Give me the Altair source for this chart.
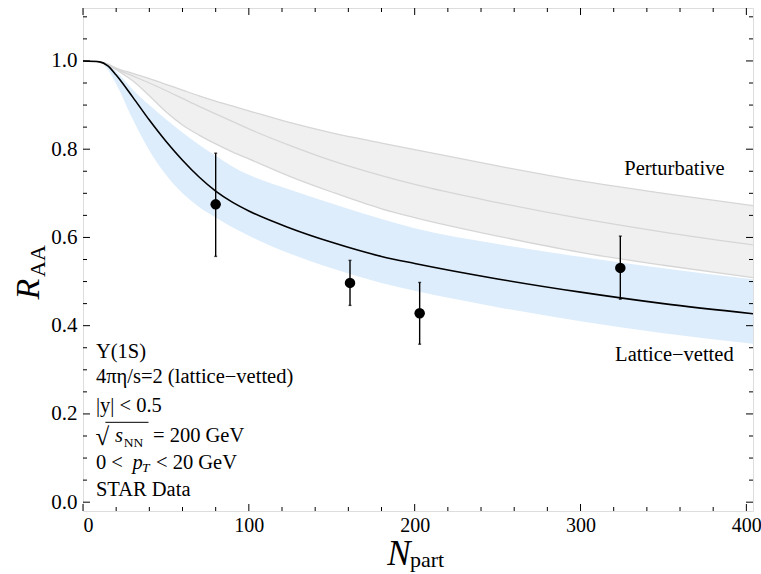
import altair as alt
import pandas as pd

# ---- curve data ----
N_grid = [0, 10, 15, 20, 30, 40, 50, 60, 70, 80, 90, 100, 125, 150, 180, 200, 250, 300, 350, 404]
gray_upper = [1.0, 0.998, 0.993, 0.984, 0.972, 0.960, 0.947, 0.934, 0.921, 0.909, 0.898, 0.887, 0.860, 0.837, 0.814, 0.799, 0.762, 0.728, 0.700, 0.672]
gray_mid = [1.0, 0.998, 0.992, 0.982, 0.966, 0.950, 0.933, 0.915, 0.897, 0.880, 0.863, 0.846, 0.808, 0.774, 0.740, 0.720, 0.679, 0.643, 0.612, 0.583]
gray_lower = [1.0, 0.998, 0.991, 0.980, 0.955, 0.921, 0.885, 0.855, 0.832, 0.812, 0.794, 0.778, 0.738, 0.703, 0.665, 0.645, 0.603, 0.566, 0.537, 0.509]
blue_upper = [1.0, 0.998, 0.990, 0.976, 0.935, 0.900, 0.868, 0.838, 0.810, 0.785, 0.761, 0.742, 0.708, 0.677, 0.642, 0.621, 0.585, 0.556, 0.530, 0.505]
lattice_central = [1.0, 0.998, 0.989, 0.968, 0.918, 0.866, 0.818, 0.775, 0.737, 0.705, 0.680, 0.660, 0.621, 0.589, 0.557, 0.541, 0.506, 0.476, 0.450, 0.427]
blue_lower = [1.0, 0.997, 0.980, 0.948, 0.868, 0.797, 0.742, 0.700, 0.669, 0.645, 0.623, 0.604, 0.563, 0.530, 0.497, 0.479, 0.442, 0.410, 0.383, 0.359]

# ---- STAR data ----
star_N = [80, 161, 203, 324]
star_R = [0.675, 0.497, 0.428, 0.531]
star_lo = [0.557, 0.446, 0.358, 0.460]
star_hi = [0.791, 0.548, 0.498, 0.603]

# ---- ticks ----
x_major = [0, 100, 200, 300, 400]
x_minor = [20, 40, 60, 80, 120, 140, 160, 180, 220, 240, 260, 280, 320, 340, 360, 380]
y_major = [0.0, 0.2, 0.4, 0.6, 0.8, 1.0]
y_minor = [0.05, 0.1, 0.15, 0.25, 0.3, 0.35, 0.45, 0.5, 0.55, 0.65, 0.7, 0.75, 0.85, 0.9, 0.95, 1.05, 1.1]

W, H = 670, 503
FONT = "Liberation Serif"
XD = [0, 404]
YD = [-0.02, 1.12]
FS = 20.5

curves = pd.DataFrame({
    "N": N_grid, "gu": gray_upper, "gm": gray_mid, "gl": gray_lower,
    "bu": blue_upper, "c": lattice_central, "bl": blue_lower,
})
pts = pd.DataFrame({"N": star_N, "R": star_R, "lo": star_lo, "hi": star_hi})

xs = alt.Scale(domain=XD, nice=False, zero=False)
ys = alt.Scale(domain=YD, nice=False, zero=False)

x_axis = alt.Axis(values=x_major, ticks=False, domain=False, grid=False, title=None,
                  labelFont=FONT, labelFontSize=20, labelColor="black", labelPadding=4)
y_axis = alt.Axis(values=y_major, ticks=False, domain=False, grid=False, title=None, format=".1f",
                  labelFont=FONT, labelFontSize=21, labelColor="black", labelPadding=6)

base = alt.Chart(curves)

blue_band = base.mark_area(color="#ddedfc", interpolate="monotone", clip=True).encode(
    x=alt.X("N:Q", scale=xs, axis=x_axis),
    y=alt.Y("bu:Q", scale=ys, axis=y_axis),
    y2="bl:Q",
)
gray_band = base.mark_area(color="#f0f0f0", interpolate="monotone", clip=True).encode(
    x=alt.X("N:Q", scale=xs), y=alt.Y("gu:Q", scale=ys), y2="gl:Q"
)
gray_lines = alt.layer(*[
    base.mark_line(color="#d6d6d6", strokeWidth=1.3, interpolate="monotone", clip=True).encode(
        x=alt.X("N:Q", scale=xs), y=alt.Y(f"{c}:Q", scale=ys))
    for c in ["gu", "gm", "gl"]
])
central = base.mark_line(color="black", strokeWidth=1.6, interpolate="monotone", clip=True).encode(
    x=alt.X("N:Q", scale=xs), y=alt.Y("c:Q", scale=ys)
)

pbase = alt.Chart(pts)
err = pbase.mark_rule(color="black", strokeWidth=1.4).encode(
    x=alt.X("N:Q", scale=xs), y=alt.Y("lo:Q", scale=ys), y2="hi:Q")
cap_hi = pbase.mark_tick(color="black", orient="horizontal", size=3, thickness=1.4).encode(
    x=alt.X("N:Q", scale=xs), y=alt.Y("hi:Q", scale=ys))
cap_lo = pbase.mark_tick(color="black", orient="horizontal", size=3, thickness=1.4).encode(
    x=alt.X("N:Q", scale=xs), y=alt.Y("lo:Q", scale=ys))
dots = pbase.mark_circle(color="black", opacity=1, size=110).encode(
    x=alt.X("N:Q", scale=xs), y=alt.Y("R:Q", scale=ys))

# ---- frame ticks (inward, on all four sides) ----
def xticks(vals, length):
    d = alt.Chart(pd.DataFrame({"v": vals}))
    bot = d.mark_rule(color="black", strokeWidth=1).encode(
        x=alt.X("v:Q", scale=xs), y=alt.value(H), y2=alt.value(H - length))
    top = d.mark_rule(color="black", strokeWidth=1).encode(
        x=alt.X("v:Q", scale=xs), y=alt.value(0), y2=alt.value(length))
    return bot + top

def yticks(vals, length):
    d = alt.Chart(pd.DataFrame({"v": vals}))
    left = d.mark_rule(color="black", strokeWidth=1).encode(
        y=alt.Y("v:Q", scale=ys), x=alt.value(0), x2=alt.value(length))
    right = d.mark_rule(color="black", strokeWidth=1).encode(
        y=alt.Y("v:Q", scale=ys), x=alt.value(W), x2=alt.value(W - length))
    return left + right

ticks = xticks(x_major, 7) + xticks(x_minor, 4) + yticks(y_major, 7) + yticks(y_minor, 4)

# ---- in-plot annotations (data coordinates) ----
ann_text = ["Perturbative", "Lattice\u2212vetted", "\u03a5(1S)", "4\u03c0\u03b7/s=2 (lattice\u2212vetted)",
            "|y| < 0.5", "= 200 GeV", "0 <", "< 20 GeV", "STAR Data"]
ann_N = [356.6, 356.6, 7.8, 7.8, 7.8, 42.2, 7.8, 44.0, 7.8]
ann_R = [0.755, 0.333, 0.340, 0.283, 0.218, 0.149, 0.089, 0.089, 0.028]
ann_align = ["center", "center", "left", "left", "left", "left", "left", "left", "left"]

ann_layers = []
for t, n, r, a in zip(ann_text, ann_N, ann_R, ann_align):
    ann_layers.append(
        alt.Chart(pd.DataFrame({"t": [t], "N": [n], "R": [r]})).mark_text(
            font=FONT, fontSize=FS, color="black", align=a, baseline="middle"
        ).encode(x=alt.X("N:Q", scale=xs), y=alt.Y("R:Q", scale=ys), text="t:N")
    )

# italic / sub pieces
ital_text = ["s", "p"]
ital_N = [19.3, 29.8]
ital_R = [0.149, 0.089]
sub_text = ["NN", "T"]
sub_N = [24.6, 35.6]
sub_R = [0.135, 0.077]
ital_sub = [False, True]

for t, n, r in zip(ital_text, ital_N, ital_R):
    ann_layers.append(
        alt.Chart(pd.DataFrame({"t": [t], "N": [n], "R": [r]})).mark_text(
            font=FONT, fontSize=FS, fontStyle="italic", color="black", align="left", baseline="middle"
        ).encode(x=alt.X("N:Q", scale=xs), y=alt.Y("R:Q", scale=ys), text="t:N")
    )
for t, n, r, it in zip(sub_text, sub_N, sub_R, ital_sub):
    kw = {"fontStyle": "italic"} if it else {}
    ann_layers.append(
        alt.Chart(pd.DataFrame({"t": [t], "N": [n], "R": [r]})).mark_text(
            font=FONT, fontSize=13.5, color="black", align="left", baseline="middle", **kw
        ).encode(x=alt.X("N:Q", scale=xs), y=alt.Y("R:Q", scale=ys), text="t:N")
    )

# radical sign and its bar
rad = alt.Chart(pd.DataFrame({"t": ["\u221a"], "N": [7.6], "R": [0.147]})).mark_text(
    font=FONT, fontSize=25, color="black", align="left", baseline="middle"
).encode(x=alt.X("N:Q", scale=xs), y=alt.Y("R:Q", scale=ys), text="t:N")
rad_bar = alt.Chart(pd.DataFrame({"a": [13.5], "b": [39.5], "R": [0.181]})).mark_rule(
    color="black", strokeWidth=1
).encode(x=alt.X("a:Q", scale=xs), x2="b:Q", y=alt.Y("R:Q", scale=ys))
ann_layers += [rad, rad_bar]

# ---- axis titles with subscripts ----
one = pd.DataFrame({"k": [0]})
def label(text, x, y, size, angle=0, italic=False, align="center", baseline="middle"):
    kw = {"fontStyle": "italic"} if italic else {}
    if angle:
        kw["angle"] = angle
    return alt.Chart(one).mark_text(
        text=text, font=FONT, fontSize=size, color="black", align=align, baseline=baseline, **kw
    ).encode(x=alt.value(x), y=alt.value(y))

titles = [
    label("R", -54, 281, 34, angle=270, italic=True),
    label("AA", -45.5, 253, 22, angle=270),
    label("N", 316, 546, 35, italic=True),
    label("part", 327, 559, 22, align="left", baseline="alphabetic"),
]

chart = alt.layer(
    blue_band, gray_band, gray_lines, central, err, cap_hi, cap_lo, dots, ticks, *ann_layers, *titles
).properties(
    width=W, height=H,
    autosize=alt.AutoSizeParams(type="none"),
    padding={"left": 83, "top": 8, "right": 8, "bottom": 63},
).configure_view(stroke="black", strokeWidth=1.2).configure(background="white")

chart.save("out.html", embed_options={"renderer": "svg", "actions": False})
